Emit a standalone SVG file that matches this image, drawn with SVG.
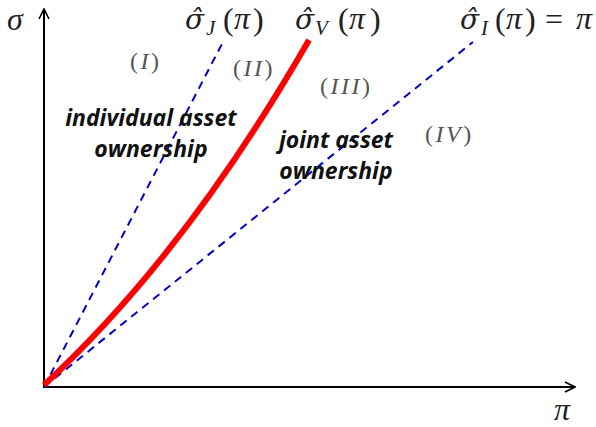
<svg xmlns="http://www.w3.org/2000/svg" width="596" height="427" viewBox="0 0 596 427">
<style>
.m{font-family:"Liberation Serif","DejaVu Serif",serif;font-style:italic;fill:#222;font-size:32px}
.s{font-family:"DejaVu Serif","Liberation Serif",serif;font-style:italic;fill:#222;font-size:28px}
.p{font-family:"Liberation Serif","DejaVu Serif",serif;font-style:normal;fill:#222;font-size:32px}
.sub{font-family:"Liberation Serif","DejaVu Serif",serif;font-style:italic;fill:#222;font-size:21px}
.reg{font-family:"Liberation Serif","DejaVu Serif",serif;font-style:italic;fill:#555;font-size:24px;letter-spacing:2.5px}
.rp{font-style:normal}
.lbl{font-family:"Open Sans","Liberation Sans",sans-serif;font-style:italic;font-weight:bold;font-size:23px;fill:#111}
.dash{fill:none;stroke:#0000cc;stroke-width:2;stroke-dasharray:8,6}
</style>
<defs>
<marker id="arr" viewBox="0 0 12 12" refX="11" refY="6" markerWidth="12" markerHeight="12" markerUnits="userSpaceOnUse" orient="auto">
<path d="M1,1 L11,6 L1,11" fill="none" stroke="#000" stroke-width="1.6"/>
</marker>
</defs>
<g id="axes">
<line x1="44" y1="388" x2="44" y2="9" stroke="#000" stroke-width="2" marker-end="url(#arr)"/>
<line x1="43" y1="387" x2="575" y2="387" stroke="#000" stroke-width="2" marker-end="url(#arr)"/>
</g>
<g id="connectors">
<line class="dash" x1="44" y1="387" x2="224" y2="40"/>
<line class="dash" x1="44" y1="387" x2="473" y2="42"/>
<path d="M44,385 Q186,254 309,40" fill="none" stroke="#ff0000" stroke-width="6"/>
</g>
<g id="axis-labels">
<text class="m" x="7" y="30">σ</text>
<text class="m" x="554" y="420">π</text>
</g>
<g id="label-J">
<text class="s" x="185" y="29">σ̂</text>
<text class="sub" x="206" y="35">J</text>
<text class="p" x="223" y="30">(</text>
<text class="m" x="234" y="29">π</text>
<text class="p" x="253" y="30">)</text>
</g>
<g id="label-V">
<text class="s" x="295" y="29">σ̂</text>
<text class="sub" x="315" y="35">V</text>
<text class="p" x="338" y="30">(</text>
<text class="m" x="349" y="29">π</text>
<text class="p" x="370" y="30">)</text>
</g>
<g id="label-I">
<text class="s" x="460" y="29">σ̂</text>
<text class="sub" x="481" y="35">I</text>
<text class="p" x="495" y="30">(</text>
<text class="m" x="506" y="29">π</text>
<text class="p" x="525" y="30">)</text>
<text class="p" x="545" y="30">=</text>
<text class="m" x="576" y="29">π</text>
</g>
<g id="regions">
<text class="reg" x="130" y="69"><tspan class="rp">(</tspan>I<tspan class="rp">)</tspan></text>
<text class="reg" x="233" y="76"><tspan class="rp">(</tspan>II<tspan class="rp">)</tspan></text>
<text class="reg" x="320" y="94"><tspan class="rp">(</tspan>III<tspan class="rp">)</tspan></text>
<text class="reg" x="425" y="142"><tspan class="rp">(</tspan>IV<tspan class="rp">)</tspan></text>
</g>
<g id="region-text">
<text class="lbl" x="151" y="126" text-anchor="middle">individual asset</text>
<text class="lbl" x="151" y="157" text-anchor="middle">ownership</text>
<text class="lbl" x="336" y="148" text-anchor="middle">joint asset</text>
<text class="lbl" x="336" y="179" text-anchor="middle">ownership</text>
</g>
</svg>
